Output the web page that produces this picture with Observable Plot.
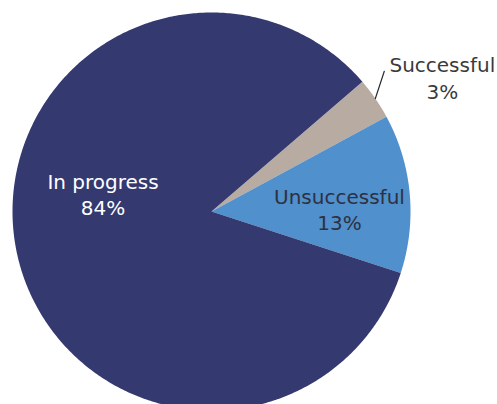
<!DOCTYPE html>
<html>
<head>
<meta charset="utf-8">
<script src="https://cdn.jsdelivr.net/npm/d3@7"></script>
<script src="https://cdn.jsdelivr.net/npm/@observablehq/plot@0.6"></script>
<style>
  html, body { margin: 0; padding: 0; background: #fff; }
  svg { display: block; }
</style>
</head>
<body>
<div id="chart"></div>
<script>
// Data
const categories = ["Successful", "Unsuccessful", "In progress"];
const values = [3.4, 12.9, 83.7];
const percentLabels = ["3%", "13%", "84%"];

// Styles / layout (kept apart from data)
const colors = ["#b8aba1", "#4f90cd", "#343a6f"];
const textColors = ["#3a3a3a", "#2e3040", "#ffffff"];
const startAngle = 49.3 * Math.PI / 180;
const labelPos = [[1.16, 0.675], [0.643, 0.015], [-0.545, 0.09]];

const pie = d3.pie().sort(null).value(d => d.value)
  .startAngle(startAngle).endAngle(startAngle + 2 * Math.PI);
const arcs = pie(categories.map((c, i) => ({category: c, value: values[i]})));

// polygon points for slices (unit circle, angle clockwise from 12 o'clock)
const slicePts = [];
arcs.forEach(a => {
  const cat = a.data.category;
  slicePts.push({category: cat, x: 0, y: 0});
  const n = Math.max(4, Math.ceil((a.endAngle - a.startAngle) / 0.01));
  for (let k = 0; k <= n; k++) {
    const t = a.startAngle + (a.endAngle - a.startAngle) * k / n;
    slicePts.push({category: cat, x: Math.sin(t), y: Math.cos(t)});
  }
});

const labels = categories.map((c, i) => ({
  category: c, text: c + "\n" + percentLabels[i],
  x: labelPos[i][0], y: labelPos[i][1]
}));

// leader line for Successful: from arc edge at mid-angle to label
const sa = arcs[0];
const mid = (sa.startAngle + sa.endAngle) / 2;
const leader = [
  {x: Math.sin(mid), y: Math.cos(mid)},
  {x: Math.sin(mid) + 0.045, y: Math.cos(mid) + 0.137}
];

const chart = Plot.plot({
  width: 497,
  height: 404,
  margin: 0,
  x: {domain: [-1, 1], range: [12, 410], axis: null},
  y: {domain: [-1, 1], range: [410, 12], axis: null},
  color: {domain: categories, range: colors},
  style: {fontFamily: "DejaVu Sans", background: "#fff"},
  marks: [
    Plot.line(slicePts, {x: "x", y: "y", z: "category", fill: "category", stroke: null, curve: "linear-closed"}),
    Plot.line(leader, {x: "x", y: "y", stroke: "#2a2a2a", strokeWidth: 1.2}),
    Plot.text(labels, {
      x: "x", y: "y", text: "text",
      fill: d => textColors[categories.indexOf(d.category)],
      fontSize: 20, lineHeight: 1.33, lineAnchor: "middle"
    })
  ]
});
document.getElementById("chart").append(chart);
</script>
</body>
</html>
